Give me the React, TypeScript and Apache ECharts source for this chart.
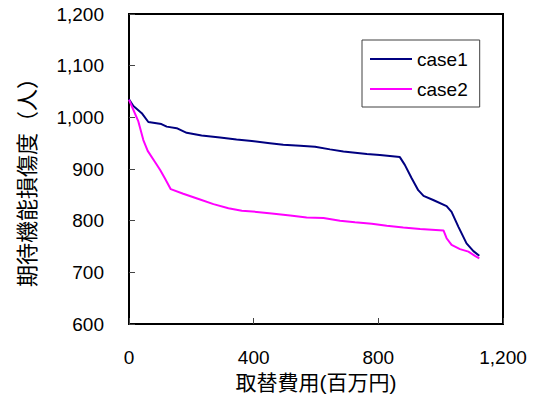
import React, { useEffect, useRef } from "react";
import * as echarts from "echarts";

const seriesNames = ["case1", "case2"];
const case1X = [0, 14, 41, 62, 104, 121, 153, 185, 233, 292, 345, 394, 452, 495, 549, 597, 645, 688, 763, 805, 869, 885, 907, 928, 945, 976, 1019, 1035, 1057, 1083, 1105, 1124];
const case1Y = [1035, 1022, 1008, 991, 987, 982, 979, 970, 965, 961, 957, 954, 950, 947, 945, 943, 938, 934, 929, 927, 923, 908, 882, 859, 848, 840, 828, 817, 788, 756, 741, 732];
const case2X = [0, 30, 46, 60, 86, 100, 115, 134, 174, 228, 271, 319, 362, 410, 458, 517, 570, 624, 677, 725, 779, 827, 880, 934, 1009, 1019, 1035, 1062, 1089, 1110, 1124];
const case2Y = [1034, 992, 956, 935, 911, 898, 882, 861, 852, 841, 832, 824, 819, 817, 814, 810, 806, 805, 800, 797, 794, 790, 787, 784, 781, 766, 753, 745, 740, 732, 727];
const xTicks = [0, 400, 800, 1200];
const yTicks = [600, 700, 800, 900, 1000, 1100, 1200];
const xTitle = "取替費用(百万円)";
const yTitle = "期待機能損傷度（人）";

const fmt = (v: number) => v.toLocaleString("en-US");

export default function App() {
  const ref = useRef<HTMLDivElement>(null);
  useEffect(() => {
    if (!ref.current) return;
    const chart = echarts.init(ref.current, null, { renderer: "svg" });
    const pair = (xs: number[], ys: number[]) => xs.map((x, i) => [x, ys[i]]);
    const latin = "'Liberation Sans', Arial, sans-serif";
    const cjk = "'Liberation Sans', 'Noto Sans CJK JP', sans-serif";
    chart.setOption({
      animation: false,
      backgroundColor: "#ffffff",
      grid: {
        left: 129,
        right: 38,
        top: 14,
        bottom: 77,
        show: true,
        borderColor: "#000",
        borderWidth: 2,
        backgroundColor: "transparent",
      },
      legend: {
        data: seriesNames,
        orient: "vertical",
        left: 362,
        top: 40,
        padding: [9, 12, 8, 8],
        borderColor: "#404040",
        borderWidth: 1,
        icon: "rect",
        itemWidth: 42,
        itemHeight: 2,
        itemGap: 10,
        textStyle: { fontFamily: latin, fontSize: 19, color: "#000", lineHeight: 20 },
      },
      xAxis: {
        type: "value",
        min: xTicks[0],
        max: xTicks[xTicks.length - 1],
        interval: 400,
        splitLine: { show: false },
        axisLine: { show: true, lineStyle: { color: "#000", width: 2 } },
        axisTick: { show: true, inside: true, length: 6, lineStyle: { color: "#444", width: 1 } },
        axisLabel: { fontFamily: latin, fontSize: 19, color: "#000", margin: 24, formatter: fmt },
        name: xTitle,
        nameLocation: "middle",
        nameGap: 46,
        nameTextStyle: { fontFamily: cjk, fontSize: 21, color: "#000" },
      },
      yAxis: {
        type: "value",
        min: yTicks[0],
        max: yTicks[yTicks.length - 1],
        interval: 100,
        splitLine: { show: false },
        axisLine: { show: true, lineStyle: { color: "#000", width: 2 } },
        axisTick: { show: true, inside: true, length: 6, lineStyle: { color: "#444", width: 1 } },
        axisLabel: { fontFamily: latin, fontSize: 19, color: "#000", margin: 25, formatter: fmt },
        name: yTitle,
        nameLocation: "middle",
        nameGap: 91,
        nameTextStyle: { fontFamily: cjk, fontSize: 22, color: "#000", padding: [0, 16, 0, 0] },
      },
      series: [
        {
          name: seriesNames[0],
          type: "line",
          data: pair(case1X, case1Y),
          symbol: "none",
          lineStyle: { color: "#000080", width: 2 },
          itemStyle: { color: "#000080" },
        },
        {
          name: seriesNames[1],
          type: "line",
          data: pair(case2X, case2Y),
          symbol: "none",
          lineStyle: { color: "#ff00ff", width: 2 },
          itemStyle: { color: "#ff00ff" },
        },
      ],
    });
    return () => chart.dispose();
  }, []);
  return <div ref={ref} style={{ width: 541, height: 401, position: "absolute", left: 0, top: 0 }} />;
}
